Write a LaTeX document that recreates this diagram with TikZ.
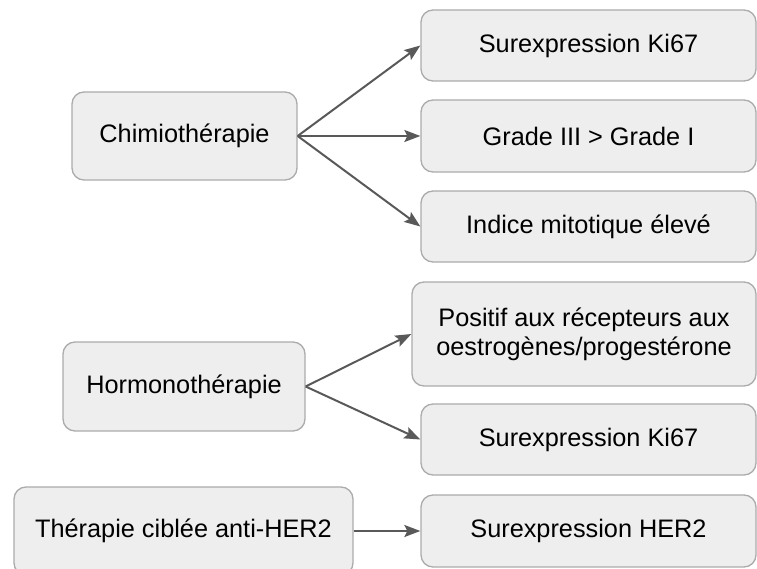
\documentclass[tikz,border=0pt]{standalone}
\usepackage{fontspec}
\setmainfont{Liberation Sans}
\usetikzlibrary{arrows.meta}
\definecolor{boxfill}{HTML}{EEEEEE}
\definecolor{boxline}{HTML}{ABABAB}
\definecolor{arrowcol}{HTML}{595959}
\begin{document}
\begin{tikzpicture}[x=1pt,y=-1pt,
  box/.style={draw=boxline, fill=boxfill, line width=1.3pt, rounded corners=12pt,
    align=center, inner sep=0pt, font=\fontsize{25.3}{29}\selectfont},
  conn/.style={draw=arrowcol, line width=2pt, -{Stealth[length=16pt,width=12pt,inset=3pt]}}]
\useasboundingbox (0,0) rectangle (757,569);
\node[box, minimum width=225pt, minimum height=88pt] (chimio) at (184.5,136) {Chimiothérapie};
\node[box, minimum width=335pt, minimum height=71pt] (ki1) at (588.5,45.5) {Surexpression Ki67};
\node[box, minimum width=335pt, minimum height=72pt] (grade) at (588.5,136) {Grade III > Grade I};
\node[box, minimum width=335pt, minimum height=71pt] (indice) at (588.5,226.5) {Indice mitotique élevé};
\node[box, minimum width=242pt, minimum height=89pt] (hormono) at (184,386.5) {Hormonothérapie};
\node[box, minimum width=344pt, minimum height=104pt] (positif) at (584,334) {Positif aux récepteurs aux\\oestrogènes/progestérone};
\node[box, minimum width=335pt, minimum height=71pt] (ki2) at (588.5,439.5) {Surexpression Ki67};
\node[box, minimum width=339pt, minimum height=88pt] (anti) at (183.5,531) {Thérapie ciblée anti-HER2};
\node[box, minimum width=335pt, minimum height=72pt] (her2) at (588.5,531) {Surexpression HER2};
\draw[conn] (chimio.east) -- (ki1.west);
\draw[conn] (chimio.east) -- (grade.west);
\draw[conn] (chimio.east) -- (indice.west);
\draw[conn] (hormono.east) -- (positif.west);
\draw[conn] (hormono.east) -- (ki2.west);
\draw[conn] (anti.east) -- (her2.west);
\end{tikzpicture}
\end{document}
